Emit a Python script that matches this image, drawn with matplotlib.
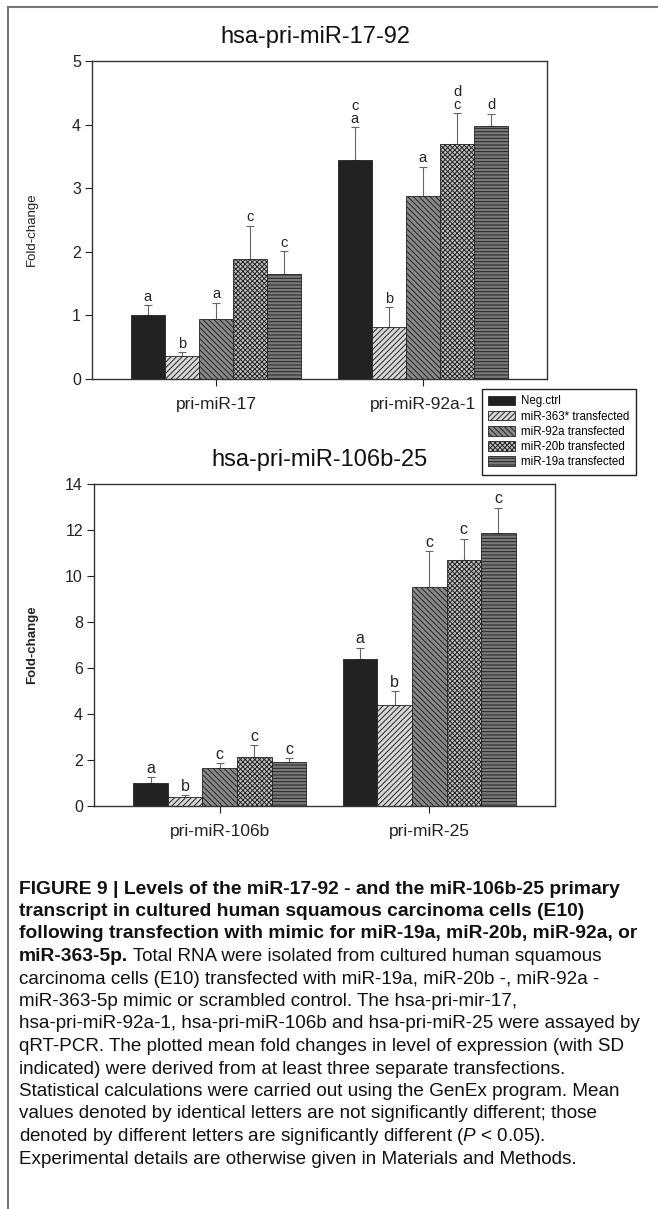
import numpy as np
import matplotlib
matplotlib.use("Agg")
import matplotlib.pyplot as plt
from matplotlib.lines import Line2D
from matplotlib.text import Annotation

plt.rcParams['font.family'] = ['Liberation Sans', 'DejaVu Sans']
plt.rcParams['mathtext.fontset'] = 'custom'
plt.rcParams['mathtext.rm'] = 'Liberation Sans'
plt.rcParams['mathtext.it'] = 'Liberation Sans:italic'
plt.rcParams['hatch.linewidth'] = 0.7

# Datos
series = ["Neg.ctrl", "miR-363* transfected", "miR-92a transfected",
          "miR-20b transfected", "miR-19a transfected"]

cat_top = ["pri-miR-17", "pri-miR-92a-1"]
neg_top = [1.01, 3.44]
m363_top = [0.36, 0.82]
m92a_top = [0.94, 2.87]
m20b_top = [1.89, 3.70]
m19a_top = [1.65, 3.98]
sd_neg_top = [0.15, 0.52]
sd_363_top = [0.06, 0.31]
sd_92a_top = [0.26, 0.47]
sd_20b_top = [0.52, 0.48]
sd_19a_top = [0.36, 0.19]
let_top = [["a", "c\na"], ["b", "b"], ["a", "a"], ["c", "d\nc"], ["c", "d"]]

cat_bot = ["pri-miR-106b", "pri-miR-25"]
neg_bot = [1.01, 6.38]
m363_bot = [0.40, 4.38]
m92a_bot = [1.64, 9.51]
m20b_bot = [2.13, 10.70]
m19a_bot = [1.93, 11.88]
sd_neg_bot = [0.25, 0.50]
sd_363_bot = [0.08, 0.62]
sd_92a_bot = [0.22, 1.58]
sd_20b_bot = [0.52, 0.92]
sd_19a_bot = [0.16, 1.09]
let_bot = [["a", "a"], ["b", "b"], ["c", "c"], ["c", "c"], ["c", "c"]]

# estilos de las barras
caras = ["#222222", "#d9d9d9", "#8a8a8a", "#c4c4c4", "#7a7a7a"]
tramas = ["", "//////", "\\\\\\\\\\\\", "xxxxxxx", "-----"]

W, H = 658, 1209
fig = plt.figure(figsize=(W / 100, H / 100), dpi=100)


def caja(l, t, r, b):
    return [l / W, 1 - b / H, (r - l) / W, (b - t) / H]


def panel(ax, cats, medias, sds, letras, titulo, ymax, paso, tamletra, negrita):
    x = np.arange(len(cats))
    ancho = 0.165
    barras = []
    for i in range(5):
        pos = x + (i - 2) * ancho
        b = ax.bar(pos, medias[i], ancho, color=caras[i], hatch=tramas[i],
                   edgecolor="#222222", linewidth=0.6, zorder=2, label=series[i])
        barras.append(b)
        ax.errorbar(pos, medias[i], yerr=[np.zeros(len(cats)), sds[i]], fmt="none",
                    ecolor="#666666", elinewidth=0.8, capsize=3, capthick=0.8, zorder=1.5)
        for j in range(len(cats)):
            ax.annotate(letras[i][j], xy=(pos[j], medias[i][j] + sds[i][j]),
                        xytext=(0, 1), textcoords="offset points", ha="center",
                        va="bottom", fontsize=tamletra, color="#222222", linespacing=0.85)
    ax.set_xlim(-0.6, 1.6)
    ax.set_ylim(0, ymax)
    ax.set_yticks(np.arange(0, ymax + 0.1, paso))
    ax.set_xticks(x)
    ax.set_xticklabels(cats, fontsize=12.5)
    ax.tick_params(axis="y", labelsize=11.5, direction="out", length=5, pad=3, colors="#222222")
    ax.tick_params(axis="x", direction="out", length=5, pad=8, colors="#222222")
    for s in ax.spines.values():
        s.set_color("#333333")
        s.set_linewidth(1.0)
    ax.set_title(titulo, fontsize=17, pad=13, x=0.49, color="#111111")
    ax.set_ylabel("Fold-change", fontsize=9.5, fontweight="bold" if negrita else "normal",
                  color="#222222")
    return barras


ax1 = fig.add_axes(caja(92, 61, 547, 379))
barras = panel(ax1, cat_top,
               [neg_top, m363_top, m92a_top, m20b_top, m19a_top],
               [sd_neg_top, sd_363_top, sd_92a_top, sd_20b_top, sd_19a_top],
               let_top, "hsa-pri-miR-17-92", 5, 1, 10.5, False)
ax1.yaxis.set_label_coords(-0.119, 0.47)

ax2 = fig.add_axes(caja(94, 484, 555, 806))
panel(ax2, cat_bot,
      [neg_bot, m363_bot, m92a_bot, m20b_bot, m19a_bot],
      [sd_neg_bot, sd_363_bot, sd_92a_bot, sd_20b_bot, sd_19a_bot],
      let_bot, "hsa-pri-miR-106b-25", 14, 2, 11.5, True)
ax2.yaxis.set_label_coords(-0.121, 0.5)

fig.legend(barras, series, loc="upper left", bbox_to_anchor=(482 / W, 1 - 389 / H),
           fontsize=8.3, frameon=True, fancybox=False, edgecolor="#222222",
           framealpha=1, borderpad=0.55, borderaxespad=0, handlelength=2.3,
           handleheight=0.9, labelspacing=0.28, handletextpad=0.55)

# marco de la figura
fig.add_artist(Line2D([8 / W, 8 / W], [0, 1 - 7 / H], transform=fig.transFigure,
                      color="#777777", lw=1.5))
fig.add_artist(Line2D([8 / W, 1], [1 - 7 / H, 1 - 7 / H], transform=fig.transFigure,
                      color="#777777", lw=1.5))

# pie de figura
negritas = [
    "FIGURE 9 | Levels of the miR-17-92 - and the miR-106b-25 primary",
    "transcript in cultured human squamous carcinoma cells (E10)",
    "following transfection with mimic for miR-19a, miR-20b, miR-92a, or",
]
normales = [
    "carcinoma cells (E10) transfected with miR-19a, miR-20b -, miR-92a -",
    "miR-363-5p mimic or scrambled control. The hsa-pri-mir-17,",
    "hsa-pri-miR-92a-1, hsa-pri-miR-106b and hsa-pri-miR-25 were assayed by",
    "qRT-PCR. The plotted mean fold changes in level of expression (with SD",
    "indicated) were derived from at least three separate transfections.",
    "Statistical calculations were carried out using the GenEx program. Mean",
    "values denoted by identical letters are not significantly different; those",
    r"denoted by different letters are significantly different ($P$ < 0.05).",
    "Experimental details are otherwise given in Materials and Methods.",
]
y0, dy = 889, 22.5
fs = 13.6
fsb = 13.9
xc = 19 / W
for k, linea in enumerate(negritas):
    fig.text(xc, 1 - (y0 + k * dy) / H, linea, fontsize=fsb, fontweight="bold",
             va="center", color="#111111")
t4 = fig.text(xc, 1 - (y0 + 3 * dy) / H, "miR-363-5p.", fontsize=fsb, fontweight="bold",
              va="center", color="#111111")
fig.add_artist(Annotation(" Total RNA were isolated from cultured human squamous",
                          xy=(1, 0), xycoords=t4, va="bottom", ha="left",
                          fontsize=fs, color="#111111"))
for k, linea in enumerate(normales):
    fig.text(xc, 1 - (y0 + (k + 4) * dy) / H, linea, fontsize=fs, va="center",
             color="#111111")

fig.savefig("out.png", dpi=100)
